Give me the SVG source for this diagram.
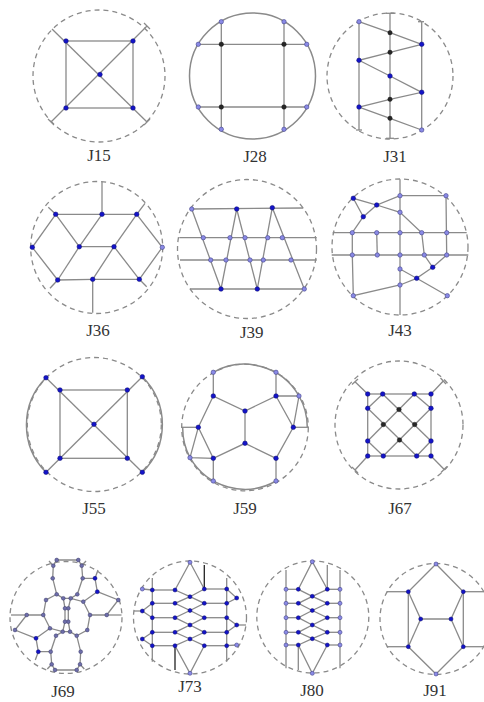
<svg xmlns="http://www.w3.org/2000/svg" width="484" height="702" viewBox="0 0 484 702">
<style>
.e{stroke:#8a8a8a;stroke-width:1.3;fill:none}
.kl{stroke:#222;stroke-width:1.3;fill:none}
.dc{fill:none;stroke:#8a8a8a;stroke-width:1.3;stroke-dasharray:5 4}
.sc{fill:none;stroke:#8a8a8a;stroke-width:1.5}
.b{fill:#1414c8;stroke:#0a0a70;stroke-width:.5}
.l{fill:#8a8ae6;stroke:#44448a;stroke-width:.6}
.m{fill:#6e6eaa;stroke:#3a3a6a;stroke-width:.5}
.k{fill:#262626;stroke:#111;stroke-width:.4}
text{font-family:"Liberation Serif",serif;font-size:17px;fill:#333;text-anchor:middle}
</style>
<rect width="484" height="702" fill="#fff"/>

<g id="J15">
<circle class="dc" cx="99" cy="76" r="66"/>
<g class="e">
<rect x="66" y="41" width="67" height="67"/>
<line x1="52" y1="29" x2="147" y2="122"/>
<line x1="147" y1="26" x2="51" y2="122"/>
<line x1="144" y1="23" x2="150" y2="29"/>
<line x1="144" y1="125" x2="150" y2="119"/>
<line x1="48" y1="119" x2="54" y2="125"/>
</g>
<circle class="b" cx="66" cy="41" r="2.3"/><circle class="b" cx="133" cy="41" r="2.3"/>
<circle class="b" cx="66" cy="108" r="2.3"/><circle class="b" cx="133" cy="108" r="2.3"/>
<circle class="b" cx="100" cy="74.5" r="2.3"/>
<text x="99" y="161">J15</text>
</g>

<g id="J28">
<circle class="sc" cx="252.5" cy="76" r="63"/>
<g class="e">
<line x1="198.3" y1="44.3" x2="306.7" y2="44.3"/>
<line x1="198.3" y1="107" x2="306.7" y2="107"/>
<line x1="221.3" y1="21.7" x2="221.3" y2="129.3"/>
<line x1="284" y1="21.7" x2="284" y2="129.3"/>
</g>
<circle class="k" cx="221.3" cy="44.3" r="2.3"/><circle class="k" cx="284" cy="44.3" r="2.3"/>
<circle class="k" cx="221.3" cy="107" r="2.3"/><circle class="k" cx="284" cy="107" r="2.3"/>
<circle class="l" cx="221.3" cy="21.7" r="2.2"/><circle class="l" cx="284" cy="21.7" r="2.2"/>
<circle class="l" cx="198.3" cy="44.3" r="2.2"/><circle class="l" cx="306.7" cy="44.3" r="2.2"/>
<circle class="l" cx="198.3" cy="107" r="2.2"/><circle class="l" cx="306.7" cy="107" r="2.2"/>
<circle class="l" cx="221.3" cy="129.3" r="2.2"/><circle class="l" cx="284" cy="129.3" r="2.2"/>
<text x="255" y="162">J28</text>
</g>

<g id="J31">
<circle class="dc" cx="390" cy="76" r="63"/>
<g class="e">
<line x1="359" y1="21.7" x2="359" y2="130"/>
<line x1="390" y1="13.3" x2="390" y2="138.3"/>
<line x1="421.7" y1="21.7" x2="421.7" y2="130"/>
<line x1="386" y1="13.3" x2="394" y2="13.3"/>
<line x1="386" y1="138.3" x2="394" y2="138.3"/>
<line x1="418" y1="21.7" x2="424" y2="21.7"/>
<line x1="356" y1="130" x2="362" y2="130"/>
<polyline points="359,21.7 390,32.7 421.7,44.3 390,52.3 359,60.3 390,76 421.7,92.3 390,99.3 359,107 390,118.3 421.7,130"/>
</g>
<circle class="l" cx="359" cy="21.7" r="2.2"/><circle class="b" cx="359" cy="60.3" r="2.3"/><circle class="b" cx="359" cy="107" r="2.3"/>
<circle class="k" cx="390" cy="32.7" r="2.2"/><circle class="k" cx="390" cy="52.3" r="2.2"/><circle class="b" cx="390" cy="76" r="2.3"/>
<circle class="k" cx="390" cy="99.3" r="2.2"/><circle class="k" cx="390" cy="118.3" r="2.2"/>
<circle class="b" cx="421.7" cy="44.3" r="2.3"/><circle class="b" cx="421.7" cy="92.3" r="2.3"/><circle class="l" cx="421.7" cy="130" r="2.2"/>
<text x="395" y="162">J31</text>
</g>

<g id="J36">
<circle class="dc" cx="96.7" cy="247.5" r="66"/>
<g class="e">
<polyline points="55.7,214.3 102,214.3 136.7,214.3"/>
<polyline points="57.7,280 92.7,279.3 139.3,279.3"/>
<line x1="79.3" y1="246.7" x2="114" y2="246.7"/>
<polyline points="55.7,214.3 32.3,247.3 57.7,280"/>
<polyline points="136.7,214.3 162.3,247.3 139.3,279.3"/>
<polyline points="55.7,214.3 79.3,246.7 102,214.3"/>
<line x1="79.3" y1="246.7" x2="57.7" y2="280"/>
<line x1="136.7" y1="214.3" x2="114" y2="246.7"/>
<polyline points="92.7,279.3 114,246.7 139.3,279.3"/>
<line x1="102" y1="214.3" x2="102" y2="181.7"/>
<line x1="92.7" y1="279.3" x2="92.7" y2="312.7"/>
<line x1="55.7" y1="214.3" x2="48.3" y2="207.3"/>
<line x1="136.7" y1="214.3" x2="145" y2="203.3"/>
<line x1="57.7" y1="280" x2="50" y2="288.3"/>
<line x1="139.3" y1="279.3" x2="146.7" y2="286.7"/>
</g>
<circle class="b" cx="55.7" cy="214.3" r="2.3"/><circle class="b" cx="102" cy="214.3" r="2.3"/><circle class="b" cx="136.7" cy="214.3" r="2.3"/>
<circle class="b" cx="32.3" cy="247.3" r="2.3"/><circle class="b" cx="79.3" cy="246.7" r="2.3"/><circle class="b" cx="114" cy="246.7" r="2.3"/>
<circle class="l" cx="162.3" cy="247.3" r="2.2"/>
<circle class="b" cx="57.7" cy="280" r="2.3"/><circle class="b" cx="92.7" cy="279.3" r="2.3"/><circle class="b" cx="139.3" cy="279.3" r="2.3"/>
<text x="98" y="336">J36</text>
</g>

<g id="J39">
<circle class="dc" cx="247" cy="249" r="69.5"/>
<g class="e">
<line x1="191.7" y1="209" x2="303.3" y2="208"/>
<line x1="179.3" y1="237.7" x2="316.7" y2="237.7"/>
<line x1="180" y1="260" x2="316.7" y2="260"/>
<line x1="190" y1="289" x2="305" y2="289"/>
<polyline points="191.7,209 221,289 236.7,209 257.3,289 272.3,207.7 304.3,289"/>
</g>
<circle class="l" cx="191.7" cy="209" r="2.2"/><circle class="b" cx="236.7" cy="209" r="2.3"/><circle class="b" cx="272.3" cy="207.7" r="2.3"/>
<circle class="l" cx="203.3" cy="237.7" r="2.2"/><circle class="l" cx="230" cy="237.7" r="2.2"/><circle class="l" cx="245" cy="237.7" r="2.2"/><circle class="l" cx="267.7" cy="237.7" r="2.2"/><circle class="l" cx="282.3" cy="237.7" r="2.2"/>
<circle class="l" cx="210.7" cy="260" r="2.2"/><circle class="l" cx="226" cy="260" r="2.2"/><circle class="l" cx="250" cy="260" r="2.2"/><circle class="l" cx="263.3" cy="260" r="2.2"/><circle class="l" cx="291" cy="260" r="2.2"/>
<circle class="b" cx="221" cy="289" r="2.3"/><circle class="b" cx="257.3" cy="289" r="2.3"/><circle class="l" cx="304.3" cy="289" r="2.2"/>
<text x="251.7" y="338">J39</text>
</g>

<g id="J43">
<circle class="dc" cx="400" cy="247" r="68"/>
<g class="e">
<line x1="400" y1="179.3" x2="400" y2="315"/>
<line x1="332.7" y1="232.7" x2="466.7" y2="232.7"/>
<line x1="331.7" y1="255" x2="468.3" y2="255"/>
<polyline points="363.3,216.7 353.3,198.3 376.7,205 400,195.7 446,195.7 446.7,255"/>
<line x1="363.3" y1="216.7" x2="376.7" y2="205"/>
<polyline points="376.7,205 400,212.3 421.7,232.7 424.3,255 432.7,267.3 446.7,255"/>
<line x1="363.3" y1="216.7" x2="352.3" y2="232.7"/>
<polyline points="352.3,232.7 352.3,255 353.3,295.7 400,285 416.7,278.3 400,269"/>
<line x1="376.7" y1="232.7" x2="377.3" y2="255"/>
<polyline points="432.7,267.3 416.7,278.3 447.3,295.7"/>
</g>
<circle class="b" cx="353.3" cy="198.3" r="2.3"/><circle class="b" cx="376.7" cy="205" r="2.3"/><circle class="l" cx="400" cy="195.7" r="2.2"/><circle class="l" cx="446" cy="195.7" r="2.2"/>
<circle class="b" cx="363.3" cy="216.7" r="2.3"/><circle class="l" cx="400" cy="212.3" r="2.2"/>
<circle class="l" cx="352.3" cy="232.7" r="2.2"/><circle class="l" cx="376.7" cy="232.7" r="2.2"/><circle class="l" cx="400" cy="232.7" r="2.2"/><circle class="l" cx="421.7" cy="232.7" r="2.2"/><circle class="l" cx="446.7" cy="232.7" r="2.2"/>
<circle class="l" cx="352.3" cy="255" r="2.2"/><circle class="l" cx="377.3" cy="255" r="2.2"/><circle class="l" cx="400" cy="255" r="2.2"/><circle class="l" cx="424.3" cy="255" r="2.2"/><circle class="l" cx="446.7" cy="255" r="2.2"/>
<circle class="l" cx="400" cy="269" r="2.2"/><circle class="b" cx="432.7" cy="267.3" r="2.3"/><circle class="b" cx="416.7" cy="278.3" r="2.3"/><circle class="l" cx="400" cy="285" r="2.2"/>
<circle class="l" cx="353.3" cy="295.7" r="2.2"/><circle class="l" cx="447.3" cy="295.7" r="2.2"/>
<text x="400" y="336">J43</text>
</g>

<g id="J55">
<circle class="dc" cx="94.3" cy="424.5" r="67"/>
<path class="sc" d="M46,377.7 A67,67 0 0 0 46,472.3 M142.3,376.7 A67,67 0 0 1 142.3,472.3"/>
<g class="e">
<rect x="60" y="390" width="67.3" height="68.3"/>
<line x1="46" y1="377.7" x2="142.3" y2="472.3"/>
<line x1="142.3" y1="376.7" x2="46" y2="472.3"/>
</g>
<circle class="b" cx="46" cy="377.7" r="2.3"/><circle class="b" cx="142.3" cy="376.7" r="2.3"/><circle class="b" cx="46" cy="472.3" r="2.3"/><circle class="b" cx="142.3" cy="472.3" r="2.3"/>
<circle class="b" cx="60" cy="390" r="2.3"/><circle class="b" cx="127.3" cy="390" r="2.3"/><circle class="b" cx="60" cy="458.3" r="2.3"/><circle class="b" cx="127.3" cy="458.3" r="2.3"/>
<circle class="b" cx="94" cy="424.3" r="2.3"/>
<text x="94" y="514">J55</text>
</g>

<g id="J59">
<circle class="dc" cx="245" cy="427.5" r="63.3"/>
<path class="sc" d="M213.3,372.3 A63.3,63.3 0 0 1 299,396 A63.3,63.3 0 0 1 307.3,427.3 M182.7,427.3 A63.3,63.3 0 0 0 190,457.7 A63.3,63.3 0 0 0 276,481"/>
<g class="e">
<polyline points="213.3,372.3 213.3,396 245,411 276,396 276,372.3"/>
<line x1="245" y1="411" x2="245" y2="443.3"/>
<polyline points="213.3,396 198.3,427.3 213.3,458.3 245,443.3 276,458.3 293.3,427.3 276,396 299,396 293.3,427.3"/>
<polyline points="198.3,427.3 190,457.7 213.3,458.3 213.3,481"/>
<line x1="276" y1="458.3" x2="276" y2="481"/>
<line x1="198.3" y1="427.3" x2="181.7" y2="427.3"/>
<line x1="293.3" y1="427.3" x2="308.3" y2="427.3"/>
</g>
<circle class="l" cx="213.3" cy="372.3" r="2.2"/><circle class="l" cx="276" cy="372.3" r="2.2"/>
<circle class="b" cx="213.3" cy="396" r="2.3"/><circle class="b" cx="276" cy="396" r="2.3"/><circle class="l" cx="299" cy="396" r="2.2"/>
<circle class="b" cx="245" cy="411" r="2.3"/><circle class="b" cx="198.3" cy="427.3" r="2.3"/><circle class="b" cx="293.3" cy="427.3" r="2.3"/>
<circle class="b" cx="245" cy="443.3" r="2.3"/><circle class="l" cx="190" cy="457.7" r="2.2"/><circle class="b" cx="213.3" cy="458.3" r="2.3"/><circle class="b" cx="276" cy="458.3" r="2.3"/>
<circle class="l" cx="213.3" cy="481" r="2.2"/><circle class="l" cx="276" cy="481" r="2.2"/>
<text x="245" y="514">J59</text>
</g>

<g id="J67">
<circle class="dc" cx="399" cy="425" r="64"/>
<g class="e">
<rect x="367.7" y="394" width="63.3" height="62"/>
<line x1="382.7" y1="394" x2="431" y2="441"/>
<line x1="414.3" y1="394" x2="367.7" y2="441"/>
<line x1="367.7" y1="408.3" x2="416.7" y2="456"/>
<line x1="431" y1="408.3" x2="383.3" y2="456"/>
<line x1="382.7" y1="394" x2="367.7" y2="408.3"/>
<line x1="414.3" y1="394" x2="431" y2="408.3"/>
<line x1="367.7" y1="441" x2="383.3" y2="456"/>
<line x1="431" y1="441" x2="416.7" y2="456"/>
<line x1="367.7" y1="394" x2="355" y2="381.7"/>
<line x1="431" y1="394" x2="443.3" y2="381"/>
<line x1="367.7" y1="456" x2="355" y2="470"/>
<line x1="431" y1="456" x2="444" y2="469.3"/>
<line x1="352" y1="384.5" x2="358" y2="379"/>
<line x1="440.5" y1="378" x2="446" y2="384"/>
<line x1="352" y1="467" x2="358" y2="473"/>
<line x1="441" y1="472.5" x2="447" y2="466.5"/>
</g>
<circle class="b" cx="367.7" cy="394" r="2.3"/><circle class="b" cx="382.7" cy="394" r="2.3"/><circle class="b" cx="414.3" cy="394" r="2.3"/><circle class="b" cx="431" cy="394" r="2.3"/>
<circle class="b" cx="431" cy="408.3" r="2.3"/><circle class="b" cx="431" cy="441" r="2.3"/>
<circle class="b" cx="431" cy="456" r="2.3"/><circle class="b" cx="416.7" cy="456" r="2.3"/><circle class="b" cx="383.3" cy="456" r="2.3"/><circle class="b" cx="367.7" cy="456" r="2.3"/>
<circle class="b" cx="367.7" cy="408.3" r="2.3"/><circle class="b" cx="367.7" cy="441" r="2.3"/>
<circle class="k" cx="399" cy="409.5" r="2.3"/><circle class="k" cx="383.3" cy="424.5" r="2.3"/><circle class="k" cx="414.7" cy="424.5" r="2.3"/><circle class="k" cx="399.5" cy="440" r="2.3"/>
<text x="400" y="514">J67</text>
</g>

<g id="J69">
<circle class="dc" cx="66" cy="617.5" r="56"/>
<g class="e">
<polygon points="56.7,560 78.3,560 81.7,565.7 82.7,578.3 77.3,594.3 70.7,598.3 63.3,598.3 56.7,594.3 52.7,578.3 53.3,565.7"/>
<polygon points="76.7,670 55,670 51.7,664.3 50.7,651.7 56,635.7 62.7,631.7 70,631.7 76.7,635.7 80.7,651.7 80,664.3"/>
<polyline points="70.7,598.3 83.3,601.7 90,615 87.3,630 76.7,635.7"/>
<polyline points="70.7,598.3 68.3,608.3 68.3,621.7 70,631.7"/>
<polyline points="62.7,631.7 50,628.3 43.3,615 46,600 56.7,594.3"/>
<polyline points="63.3,598.3 65,608.3 65,621.7 62.7,631.7"/>
<line x1="65" y1="608.3" x2="68.3" y2="608.3"/>
<line x1="65" y1="621.7" x2="68.3" y2="621.7"/>
<line x1="53.3" y1="565.7" x2="49" y2="561"/>
<line x1="81.7" y1="565.7" x2="86" y2="561"/>
<line x1="80" y1="664.3" x2="84.3" y2="669"/>
<line x1="51.7" y1="664.3" x2="47.3" y2="669"/>
<polyline points="82.7,578.3 95,578.3 97.3,591.7 83.3,601.7"/>
<line x1="95" y1="578.3" x2="98" y2="570"/>
<polyline points="97.3,591.7 118.3,600 106.7,615 90,615"/>
<line x1="106.7" y1="615" x2="121.5" y2="615"/>
<polyline points="50.7,651.7 38.3,651.7 36,638.3 50,628.3"/>
<line x1="38.3" y1="651.7" x2="35.3" y2="660"/>
<polyline points="36,638.3 15,630 26.7,615 43.3,615"/>
<line x1="26.7" y1="615" x2="11" y2="615"/>
</g>
<g class="m">
<circle cx="56.7" cy="560" r="1.9"/><circle cx="78.3" cy="560" r="1.9"/><circle cx="81.7" cy="565.7" r="1.9"/><circle cx="82.7" cy="578.3" r="1.9"/><circle cx="77.3" cy="594.3" r="1.9"/><circle cx="70.7" cy="598.3" r="1.9"/><circle cx="63.3" cy="598.3" r="1.9"/><circle cx="56.7" cy="594.3" r="1.9"/><circle cx="52.7" cy="578.3" r="1.9"/><circle cx="53.3" cy="565.7" r="1.9"/>
<circle cx="76.7" cy="670" r="1.9"/><circle cx="55" cy="670" r="1.9"/><circle cx="51.7" cy="664.3" r="1.9"/><circle cx="50.7" cy="651.7" r="1.9"/><circle cx="56" cy="635.7" r="1.9"/><circle cx="62.7" cy="631.7" r="1.9"/><circle cx="70" cy="631.7" r="1.9"/><circle cx="76.7" cy="635.7" r="1.9"/><circle cx="80.7" cy="651.7" r="1.9"/><circle cx="80" cy="664.3" r="1.9"/>
<circle cx="83.3" cy="601.7" r="1.9"/><circle cx="90" cy="615" r="1.9"/><circle cx="87.3" cy="630" r="1.9"/><circle cx="68.3" cy="608.3" r="1.9"/><circle cx="68.3" cy="621.7" r="1.9"/>
<circle cx="50" cy="628.3" r="1.9"/><circle cx="43.3" cy="615" r="1.9"/><circle cx="46" cy="600" r="1.9"/><circle cx="65" cy="608.3" r="1.9"/><circle cx="65" cy="621.7" r="1.9"/>
<circle cx="106.7" cy="615" r="1.9"/><circle cx="118.3" cy="600" r="1.9"/><circle cx="26.7" cy="615" r="1.9"/><circle cx="15" cy="630" r="1.9"/>
</g>
<circle class="b" cx="95" cy="578.3" r="2"/><circle class="b" cx="97.3" cy="591.7" r="2"/><circle class="b" cx="38.3" cy="651.7" r="2"/><circle class="b" cx="36" cy="638.3" r="2"/>
<text x="63" y="697">J69</text>
</g>

<g id="J73">
<circle class="dc" cx="190" cy="617.5" r="56.5"/>
<g class="e">
<polyline points="175,590 190,562.3 204.3,589"/>
<polyline points="175,645.7 190,673.3 204.3,645.7"/>
<line x1="152.3" y1="578" x2="152.3" y2="661.7"/>
<line x1="226.7" y1="578" x2="226.7" y2="661.7"/>
<polyline points="175,590 190,596.7 204.3,603.3 190,610.5 175,617.7 190,625 204.3,632.3 190,639 175,645.7"/>
<polyline points="204.3,589 190,596.7 175,603.3 190,610.5 204.3,617.7 190,625 175,632.3 190,639 204.3,645.7"/>
<line x1="152.3" y1="590" x2="175" y2="590"/><line x1="152.3" y1="603.3" x2="175" y2="603.3"/><line x1="152.3" y1="617.7" x2="175" y2="617.7"/><line x1="152.3" y1="632.3" x2="175" y2="632.3"/><line x1="152.3" y1="645.7" x2="175" y2="645.7"/>
<line x1="204.3" y1="589" x2="226.7" y2="589"/><line x1="204.3" y1="603.3" x2="226.7" y2="603.3"/><line x1="204.3" y1="617.7" x2="226.7" y2="617.7"/><line x1="204.3" y1="632.3" x2="226.7" y2="632.3"/><line x1="204.3" y1="645.7" x2="226.7" y2="645.7"/>
<polyline points="142.3,589 152.3,590"/>
<polyline points="152.3,603.3 142.3,611 152.3,617.7"/>
<polyline points="152.3,632.3 142.3,639 152.3,645.7"/>
<polyline points="226.7,589 236.7,598 226.7,603.3"/>
<polyline points="226.7,617.7 236.7,625 226.7,632.3"/>
<polyline points="226.7,645.7 236.7,645"/>
<line x1="142.3" y1="611" x2="134" y2="611"/><line x1="236.7" y1="625" x2="246" y2="625"/>
</g>
<g class="kl">
<line x1="204.3" y1="565" x2="204.3" y2="589"/>
<line x1="175" y1="645.7" x2="175" y2="670"/>
</g>
<circle class="l" cx="190" cy="562.3" r="2"/><circle class="l" cx="190" cy="673.3" r="2"/>
<g class="b">
<circle cx="152.3" cy="590" r="2"/><circle cx="152.3" cy="603.3" r="2"/><circle cx="152.3" cy="617.7" r="2"/><circle cx="152.3" cy="632.3" r="2"/><circle cx="152.3" cy="645.7" r="2"/>
<circle cx="175" cy="590" r="2"/><circle cx="175" cy="603.3" r="2"/><circle cx="175" cy="617.7" r="2"/><circle cx="175" cy="632.3" r="2"/><circle cx="175" cy="645.7" r="2"/>
<circle cx="204.3" cy="589" r="2"/><circle cx="204.3" cy="603.3" r="2"/><circle cx="204.3" cy="617.7" r="2"/><circle cx="204.3" cy="632.3" r="2"/><circle cx="204.3" cy="645.7" r="2"/>
<circle cx="226.7" cy="589" r="2"/><circle cx="226.7" cy="603.3" r="2"/><circle cx="226.7" cy="617.7" r="2"/><circle cx="226.7" cy="632.3" r="2"/><circle cx="226.7" cy="645.7" r="2"/>
<circle cx="190" cy="596.7" r="2"/><circle cx="190" cy="610.5" r="2"/><circle cx="190" cy="625" r="2"/><circle cx="190" cy="639" r="2"/>
<circle cx="142.3" cy="611" r="2"/><circle cx="142.3" cy="639" r="2"/><circle cx="236.7" cy="598" r="2"/><circle cx="236.7" cy="625" r="2"/>
</g>
<circle class="l" cx="142.3" cy="589" r="2"/><circle class="l" cx="236.7" cy="645" r="2"/>
<text x="190" y="692">J73</text>
</g>

<g id="J80">
<circle class="dc" cx="312.8" cy="617" r="56"/>
<g class="e">
<polyline points="298.3,589.3 312.3,561.7 327.3,589.3"/>
<polyline points="298.3,645 312.3,673.3 327.3,645"/>
<line x1="286" y1="570" x2="286" y2="668.3"/>
<line x1="340" y1="570" x2="340" y2="668.3"/>
<line x1="327.3" y1="565" x2="327.3" y2="589.3"/>
<line x1="298.3" y1="645" x2="298.3" y2="670"/>
<polyline points="298.3,589.3 312.3,596.3 327.3,603.3 312.3,610.5 298.3,617.7 312.3,625 327.3,632.3 312.3,638.7 298.3,645"/>
<polyline points="327.3,589.3 312.3,596.3 298.3,603.3 312.3,610.5 327.3,617.7 312.3,625 298.3,632.3 312.3,638.7 327.3,645"/>
<line x1="286" y1="589.3" x2="298.3" y2="589.3"/><line x1="286" y1="603.3" x2="298.3" y2="603.3"/><line x1="286" y1="617.7" x2="298.3" y2="617.7"/><line x1="286" y1="632.3" x2="298.3" y2="632.3"/><line x1="286" y1="645" x2="298.3" y2="645"/>
<line x1="327.3" y1="589.3" x2="340" y2="589.3"/><line x1="327.3" y1="603.3" x2="340" y2="603.3"/><line x1="327.3" y1="617.7" x2="340" y2="617.7"/><line x1="327.3" y1="632.3" x2="340" y2="632.3"/><line x1="327.3" y1="645" x2="340" y2="645"/>
</g>
<circle class="l" cx="312.3" cy="561.7" r="2"/><circle class="l" cx="312.3" cy="673.3" r="2"/>
<g class="b">
<circle cx="298.3" cy="589.3" r="2"/><circle cx="298.3" cy="603.3" r="2"/><circle cx="298.3" cy="617.7" r="2"/><circle cx="298.3" cy="632.3" r="2"/><circle cx="298.3" cy="645" r="2"/>
<circle cx="327.3" cy="589.3" r="2"/><circle cx="327.3" cy="603.3" r="2"/><circle cx="327.3" cy="617.7" r="2"/><circle cx="327.3" cy="632.3" r="2"/><circle cx="327.3" cy="645" r="2"/>
<circle cx="312.3" cy="596.3" r="2"/><circle cx="312.3" cy="610.5" r="2"/><circle cx="312.3" cy="625" r="2"/><circle cx="312.3" cy="638.7" r="2"/>
</g>
<g class="l">
<circle cx="286" cy="589.3" r="2"/><circle cx="286" cy="603.3" r="2"/><circle cx="286" cy="617.7" r="2"/><circle cx="286" cy="632.3" r="2"/><circle cx="286" cy="645" r="2"/>
<circle cx="340" cy="589.3" r="2"/><circle cx="340" cy="603.3" r="2"/><circle cx="340" cy="617.7" r="2"/><circle cx="340" cy="632.3" r="2"/><circle cx="340" cy="645" r="2"/>
</g>
<text x="312" y="696">J80</text>
</g>

<g id="J91">
<circle class="dc" cx="435.5" cy="619" r="55.5"/>
<g class="e">
<polyline points="408.3,646.7 408.3,591.7 436,564 463.3,591.7 463.3,646.7 436,674 408.3,646.7"/>
<polyline points="408.3,591.7 420.7,619 451,619 463.3,591.7"/>
<line x1="420.7" y1="619" x2="408.3" y2="646.7"/>
<line x1="451" y1="619" x2="463.3" y2="646.7"/>
<line x1="386.7" y1="591.7" x2="408.3" y2="591.7"/>
<line x1="386.7" y1="646.7" x2="408.3" y2="646.7"/>
<line x1="463.3" y1="591.7" x2="484" y2="591.7"/>
<line x1="463.3" y1="646.7" x2="484" y2="646.7"/>
</g>
<circle class="l" cx="436" cy="564" r="2"/><circle class="l" cx="436" cy="674" r="2"/>
<circle class="b" cx="408.3" cy="591.7" r="2"/><circle class="b" cx="463.3" cy="591.7" r="2"/><circle class="b" cx="420.7" cy="619" r="2"/><circle class="b" cx="451" cy="619" r="2"/><circle class="b" cx="408.3" cy="646.7" r="2"/><circle class="b" cx="463.3" cy="646.7" r="2"/>
<text x="435" y="696">J91</text>
</g>
</svg>
